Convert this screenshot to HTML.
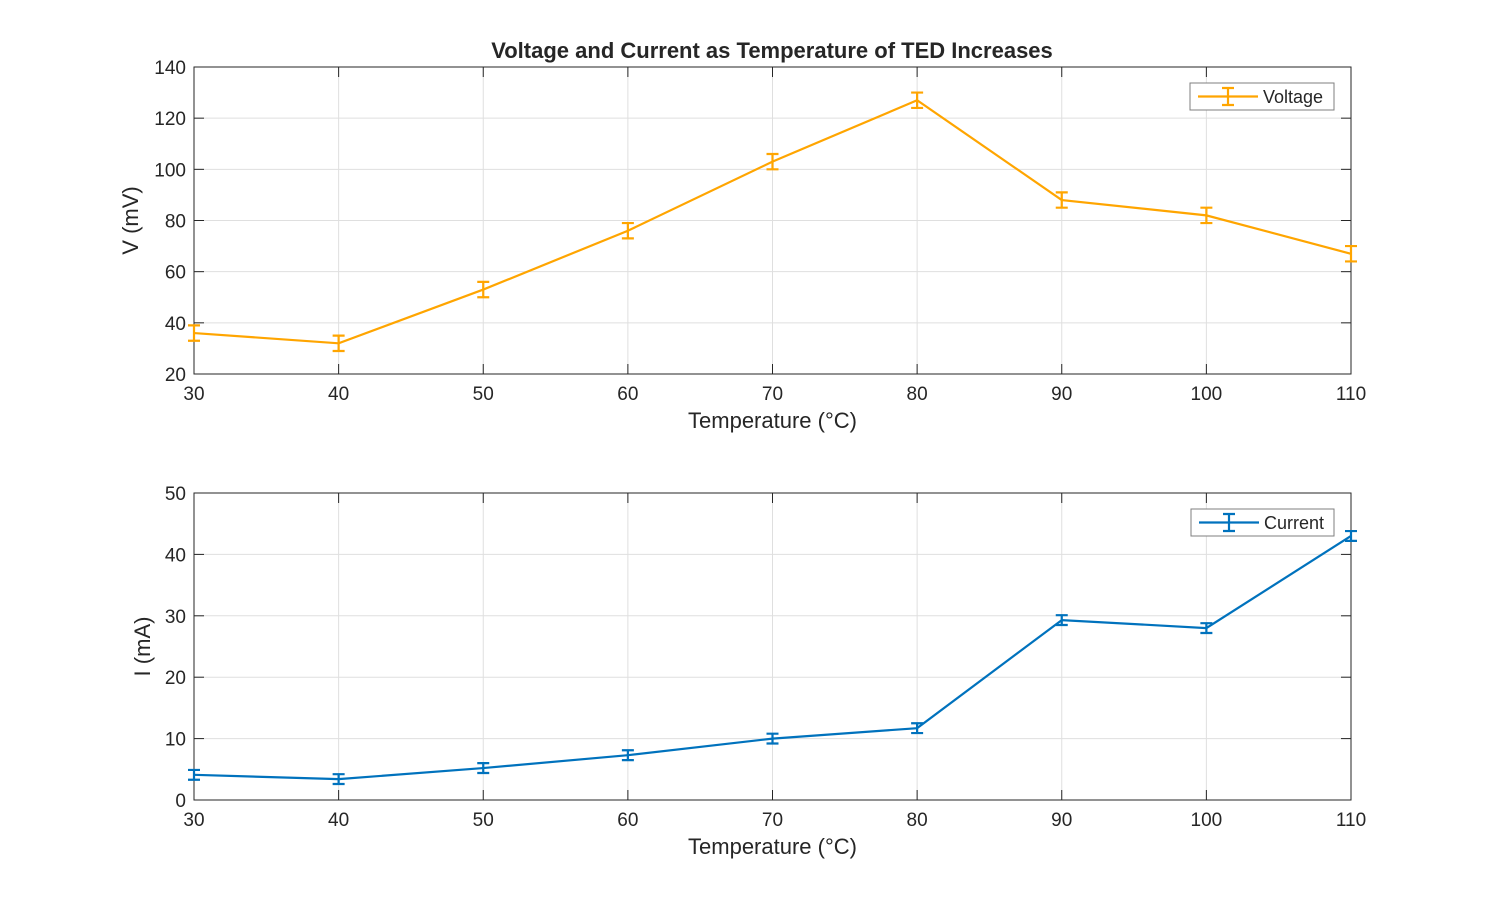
<!DOCTYPE html>
<html><head><meta charset="utf-8"><style>
body{margin:0;background:#fff;}
svg text{font-family:"Liberation Sans",Arial,sans-serif;fill:#262626;}
</style></head><body>
<svg id="c" width="1493" height="899"></svg>
<script>
const temps=[30,40,50,60,70,80,90,100,110];
const voltage=[36,32,53,76,103,127,88,82,67];
const voltErr=[3,3,3,3,3,3,3,3,3];
const current=[4.1,3.4,5.2,7.3,10,11.7,29.3,28,43];
const currErr=[0.8,0.8,0.8,0.8,0.8,0.8,0.8,0.8,0.8];
const xTicks=[30,40,50,60,70,80,90,100,110];
const vTicks=[20,40,60,80,100,120,140];
const iTicks=[0,10,20,30,40,50];
const NS='http://www.w3.org/2000/svg';
const svg=document.getElementById('c');
function el(t,a,p){const e=document.createElementNS(NS,t);for(const k in a)e.setAttribute(k,a[k]);(p||svg).appendChild(e);return e;}
function panel(cfg){
 const L=194,R=1351,T=cfg.top,B=cfg.bot;
 const g=el('g',{});
 
 
 const xs=v=>L+(v-30)/(110-30)*(R-L);
 const ys=v=>B-(v-cfg.ymin)/(cfg.ymax-cfg.ymin)*(B-T);
 el('rect',{x:L,y:T,width:R-L,height:B-T,fill:'#fff'},g);
 xTicks.forEach(t=>{
  el('line',{x1:xs(t),x2:xs(t),y1:T,y2:B,stroke:'#dfdfdf','stroke-width':1},g);
  el('line',{x1:xs(t),x2:xs(t),y1:B,y2:B-10,stroke:'#262626'},g);
  el('line',{x1:xs(t),x2:xs(t),y1:T,y2:T+10,stroke:'#262626'},g);
  const tx=el('text',{x:xs(t),y:B+26,'text-anchor':'middle','font-size':19},g);tx.textContent=t;
  
 });
 cfg.ticks.forEach(t=>{
  el('line',{x1:L,x2:R,y1:ys(t),y2:ys(t),stroke:'#dfdfdf'},g);
  el('line',{x1:L,x2:L+10,y1:ys(t),y2:ys(t),stroke:'#262626'},g);
  el('line',{x1:R,x2:R-10,y1:ys(t),y2:ys(t),stroke:'#262626'},g);
  const tx=el('text',{x:L-8,y:ys(t)+7,'text-anchor':'end','font-size':19},g);tx.textContent=t;
  
 });
 el('rect',{x:L,y:T,width:R-L,height:B-T,fill:'none',stroke:'#262626','stroke-width':1},g);
 const pts=temps.map((t,i)=>xs(t)+','+ys(cfg.vals[i])).join(' ');
 const line=el('polyline',{points:pts,fill:'none',stroke:cfg.color,'stroke-width':2.2},g);
 
 temps.forEach((t,i)=>{
  const x=xs(t),y1=ys(cfg.vals[i]-cfg.err[i]),y2=ys(cfg.vals[i]+cfg.err[i]);
  const eb=el('path',{d:`M${x},${y1}V${y2}M${x-6},${y1}H${x+6}M${x-6},${y2}H${x+6}`,stroke:cfg.color,'stroke-width':2.2,fill:'none'},g);
  
 });
 const xl=el('text',{x:(L+R)/2,y:B+54,'text-anchor':'middle','font-size':22},g);xl.textContent='Temperature (°C)';
 
 const yl=el('text',{x:0,y:0,'text-anchor':'middle','font-size':22,transform:`translate(${cfg.ylx},${(T+B)/2}) rotate(-90)`},g);yl.textContent=cfg.ylabel;
 
 const lg=el('g',{},g);
 
 const lx=cfg.lx,ly=T+16;
 el('rect',{x:lx,y:ly,width:1334-lx,height:27,fill:'#fff',stroke:'#7f7f7f'},lg);
 el('path',{d:`M${lx+8},${ly+13.5}H${lx+68}M${lx+38},${ly+5}V${ly+22}M${lx+32},${ly+5}H${lx+44}M${lx+32},${ly+22}H${lx+44}`,stroke:cfg.color,'stroke-width':2.2,fill:'none'},lg);
 const lt=el('text',{x:lx+73,y:ly+20,'font-size':18},lg);lt.textContent=cfg.series;
}
panel({name:'voltage-panel',top:67,bot:374,ymin:20,ymax:140,ticks:vTicks,vals:voltage,err:voltErr,color:'#ffa500',ylabel:'V (mV)',ylx:138,series:'Voltage',lx:1190});
panel({name:'current-panel',top:493,bot:800,ymin:0,ymax:50,ticks:iTicks,vals:current,err:currErr,color:'#0072bd',ylabel:'I (mA)',ylx:150,series:'Current',lx:1191});
const tt=el('text',{x:772,y:58,'text-anchor':'middle','font-size':22,'font-weight':'bold'});
tt.textContent='Voltage and Current as Temperature of TED Increases';

</script>
</body></html>
